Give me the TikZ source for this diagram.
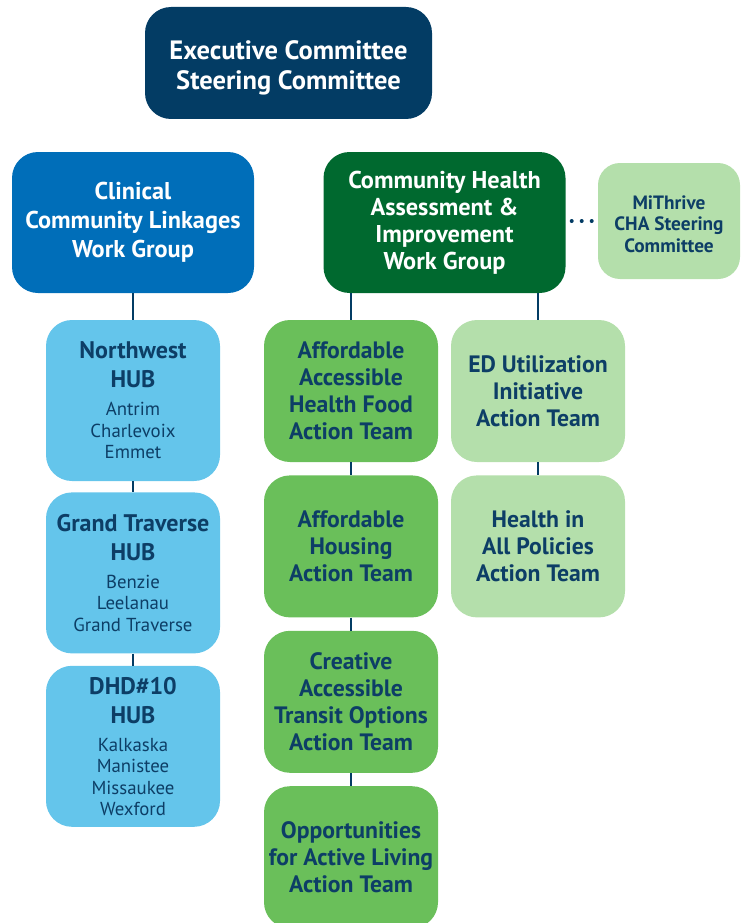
\documentclass[tikz,border=0pt]{standalone}
\usepackage{fontspec}
\setmainfont{PT Sans}
\usetikzlibrary{positioning}

\definecolor{navy}{HTML}{033C64}
\definecolor{linkblue}{HTML}{006EB9}
\definecolor{chagreen}{HTML}{00692F}
\definecolor{palegreen}{HTML}{B4DFAB}
\definecolor{teamgreen}{HTML}{6ABF5A}
\definecolor{hubblue}{HTML}{64C5EB}
\definecolor{inktext}{HTML}{0D3E66}

\tikzset{
  box/.style={rectangle, rounded corners=26pt, inner sep=0pt, align=center, font=\bfseries},
  exec/.style={box, fill=navy, text=white, minimum width=287pt, minimum height=112pt,
    font=\bfseries\fontsize{26.5}{30}\selectfont},
  group/.style={box, text=white, minimum width=242pt, minimum height=141pt,
    font=\bfseries\fontsize{24.3}{29}\selectfont},
  hub/.style={box, fill=hubblue, text=inktext, minimum width=174pt, minimum height=161pt,
    font=\bfseries\fontsize{24}{29}\selectfont},
  team/.style={box, fill=teamgreen, text=inktext, minimum width=174pt, minimum height=142pt,
    font=\bfseries\fontsize{23.7}{27}\selectfont},
  pale/.style={team, fill=palegreen},
  link/.style={draw=navy, line width=2pt},
}
% county names under each hub title
\newcommand{\county}[1]{{\normalfont\fontsize{18.8}{21.5}\selectfont #1}}

\begin{document}
\begin{tikzpicture}[x=1pt, y=-1pt]
  \useasboundingbox (0,0) rectangle (740,923);

  % top level (the rule nudges the two lines a little lower)
  \node[exec] (execc) at (288.5,63)
    {\rule{0pt}{29pt}Executive Committee\\Steering Committee};

  % work groups
  \node[group, fill=linkblue] (ccl) at (133,222.5)
    {Clinical\\Community Linkages\\Work Group};
  \node[group, fill=chagreen, font=\bfseries\fontsize{24.3}{27}\selectfont]
    (cha) at (444.5,222.5)
    {Community Health\\Assessment \&\\Improvement\\Work Group};
  \node[box, fill=palegreen, text=inktext, minimum width=142pt, minimum height=116pt,
    rounded corners=22pt, font=\bfseries\fontsize{19.3}{21.5}\selectfont]
    (mit) at (669,221) {\rule{0pt}{20pt}MiThrive\\CHA Steering\\Committee};

  % hubs
  \node[hub] (nw) at (133,400.5)
    {Northwest\\HUB\\[-1pt]\county{Antrim}\\[-7.5pt]\county{Charlevoix}\\[-7.5pt]
     \county{Emmet}};
  \node[hub, below=11pt of nw] (gt)
    {Grand Traverse\\HUB\\[-1pt]\county{Benzie}\\[-7.5pt]\county{Leelanau}\\[-7.5pt]
     \county{Grand Traverse}};
  \node[hub, below=12pt of gt] (dhd)
    {DHD\#10\\HUB\\[-1pt]\county{Kalkaska}\\[-7.5pt]\county{Manistee}\\[-7.5pt]
     \county{Missaukee}\\[-7.5pt]\county{Wexford}};

  % action teams
  \node[team] (food) at (351,391)
    {Affordable\\Accessible\\Health Food\\Action Team};
  \node[team, below=13pt of food] (housing)
    {Affordable\\Housing\\Action Team};
  \node[team, below=13pt of housing] (transit)
    {Creative\\Accessible\\Transit Options\\Action Team};
  \node[team, below=13pt of transit] (active)
    {Opportunities\\for Active Living\\Action Team};

  \node[pale] (edu) at (538,391)
    {ED Utilization\\Initiative\\Action Team};
  \node[pale, below=13pt of edu] (hiap)
    {Health in\\All Policies\\Action Team};

  % connectors
  \draw[link] (ccl) -- (nw);
  \draw[link] (nw) -- (gt);
  \draw[link] (gt) -- (dhd);
  \draw[link] (cha.south -| food.north) -- (food);
  \draw[link] (food) -- (housing);
  \draw[link] (housing) -- (transit);
  \draw[link] (transit) -- (active);
  \draw[link] (cha.south -| edu.north) -- (edu);
  \draw[link] (edu) -- (hiap);
  \draw[navy, line width=4pt, line cap=round, dash pattern=on 0pt off 10pt,
    shorten <=6pt, shorten >=6pt] (cha.east |- mit.west) -- (mit.west);
\end{tikzpicture}
\end{document}
